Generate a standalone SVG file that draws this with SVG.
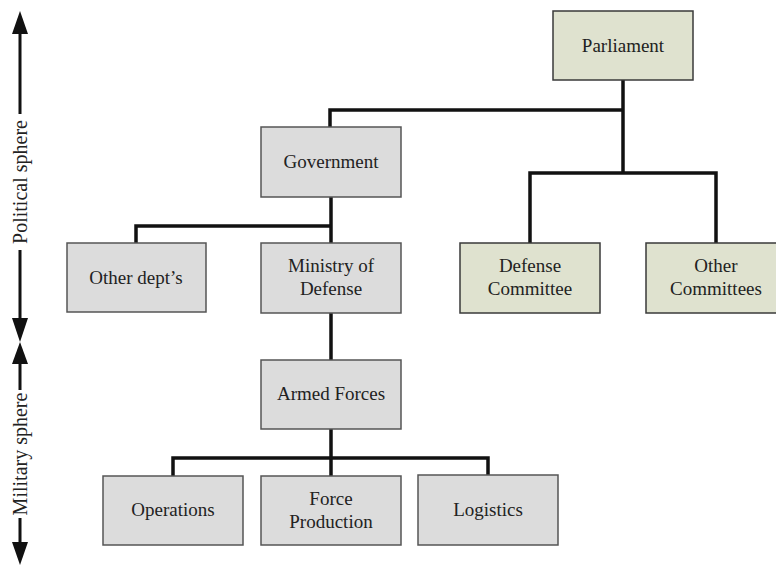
<svg xmlns="http://www.w3.org/2000/svg" width="776" height="566" viewBox="0 0 776 566">
<style>
.g rect{fill:#dcdcdc;stroke:#555;stroke-width:1.5}
.p rect{fill:#dfe2cf;stroke:#3a3a3a;stroke-width:1.5}
text{font-family:"Liberation Serif","Times New Roman",serif;font-size:19px;fill:#222;text-anchor:middle}
.side{font-size:20px}
#connectors path{fill:none;stroke:#111;stroke-width:3.5}
#axis path{fill:none;stroke:#111;stroke-width:3}
#axis polygon{fill:#111}
</style>
<rect width="776" height="566" fill="#fff"/>
<g id="connectors">
<path d="M623,80 V173"/>
<path d="M330,127 V110 H623"/>
<path d="M530,243 V173 H716 V243"/>
<path d="M331,197 V243"/>
<path d="M136,243 V226 H331"/>
<path d="M331,313 V360"/>
<path d="M331,429 V476"/>
<path d="M173,476 V458 H488 V475"/>
</g>
<g id="axis">
<path d="M20,32 V114 M20,250 V320 M20,362 V390 M20,518 V544"/>
<polygon points="20,11 12,34 28,34"/>
<polygon points="20,342 12,318 28,318"/>
<polygon points="20,342 12,364 28,364"/>
<polygon points="20,565 12,542 28,542"/>
<text class="side" transform="translate(27,182) rotate(-90)">Political sphere</text>
<text class="side" transform="translate(27,454) rotate(-90)">Military sphere</text>
</g>
<g id="parliament" class="p"><rect x="553" y="11" width="140" height="69"/><text x="623" y="52">Parliament</text></g>
<g id="government" class="g"><rect x="261" y="127" width="140" height="70"/><text x="331" y="168">Government</text></g>
<g id="other-depts" class="g"><rect x="67" y="243" width="139" height="69"/><text x="136" y="284">Other dept’s</text></g>
<g id="ministry" class="g"><rect x="261" y="243" width="140" height="70"/><text x="331" y="272">Ministry of</text><text x="331" y="295">Defense</text></g>
<g id="defense-committee" class="p"><rect x="460" y="243" width="140" height="70"/><text x="530" y="272">Defense</text><text x="530" y="295">Committee</text></g>
<g id="other-committees" class="p"><rect x="646" y="243" width="140" height="70"/><text x="716" y="272">Other</text><text x="716" y="295">Committees</text></g>
<g id="armed-forces" class="g"><rect x="261" y="360" width="140" height="69"/><text x="331" y="400">Armed Forces</text></g>
<g id="operations" class="g"><rect x="103" y="476" width="140" height="69"/><text x="173" y="516">Operations</text></g>
<g id="force-production" class="g"><rect x="261" y="476" width="140" height="69"/><text x="331" y="505">Force</text><text x="331" y="528">Production</text></g>
<g id="logistics" class="g"><rect x="418" y="475" width="140" height="70"/><text x="488" y="516">Logistics</text></g>
</svg>
